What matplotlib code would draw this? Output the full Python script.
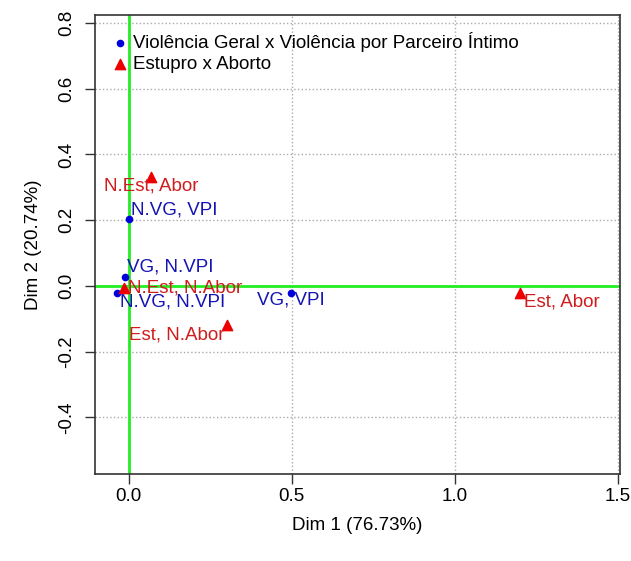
import matplotlib.pyplot as plt

plt.rcParams['font.family'] = ['Liberation Sans', 'DejaVu Sans']

# Violência Geral x Violência por Parceiro Íntimo
vg_labels = ['N.VG, VPI', 'VG, N.VPI', 'N.VG, N.VPI', 'VG, VPI']
vg_x = [0.0, -0.01, -0.035, 0.497]
vg_y = [0.205, 0.027, -0.022, -0.022]

# Estupro x Aborto
ea_labels = ['N.Est, Abor', 'N.Est, N.Abor', 'Est, N.Abor', 'Est, Abor']
ea_x = [0.07, -0.015, 0.30, 1.20]
ea_y = [0.33, -0.005, -0.12, -0.02]

# label offsets in points (dx, dy, ha)
vg_off = [(2, 6, 'left'), (1, 7, 'left'), (2, -6, 'left'), (-24, -5, 'left')]
ea_off = [(0, -6, 'center'), (3, 0, 'left'), (-70, -7, 'left'), (3, -7, 'left')]

blue = '#1414b4'
red = '#d01c1c'
fs = 13.5

fig = plt.figure(figsize=(6.31, 5.61), dpi=100)
ax = fig.add_axes([0.1506, 0.1551, 0.832, 0.818])

ax.set_xlim(-0.103, 1.506)
ax.set_ylim(-0.572, 0.824)
ax.set_xticks([0.0, 0.5, 1.0, 1.5])
ax.set_yticks([-0.4, -0.2, 0.0, 0.2, 0.4, 0.6, 0.8])
ax.set_xticklabels(['0.0', '0.5', '1.0', '1.5'])
ax.set_yticklabels(['-0.4', '-0.2', '0.0', '0.2', '0.4', '0.6', '0.8'],
                   rotation=90, va='center')
ax.grid(True, color='#aaaaaa', linestyle=':', linewidth=1)
ax.set_axisbelow(True)

ax.axhline(0, color='#22ee22', lw=2, zorder=1.5)
ax.axvline(0, color='#22ee22', lw=2, zorder=1.5)

ax.scatter(vg_x, vg_y, s=20, c='#0000dd', marker='o', zorder=3,
           label='Violência Geral x Violência por Parceiro Íntimo')
ax.scatter(ea_x, ea_y, s=55, c='#ee0000', marker='^', zorder=3,
           label='Estupro x Aborto')

for lab, x, y, (dx, dy, ha) in zip(vg_labels, vg_x, vg_y, vg_off):
    ax.annotate(lab, (x, y), xytext=(dx, dy), textcoords='offset points',
                ha=ha, va='center', color=blue, fontsize=fs)
for lab, x, y, (dx, dy, ha) in zip(ea_labels, ea_x, ea_y, ea_off):
    ax.annotate(lab, (x, y), xytext=(dx, dy), textcoords='offset points',
                ha=ha, va='center', color=red, fontsize=fs)

ax.legend(loc='upper left', frameon=False, fontsize=fs, handletextpad=0.25,
          borderaxespad=0.6, labelspacing=0.2, handlelength=0.9,
          borderpad=0.3)

for s in ax.spines.values():
    s.set_color('#333333')
    s.set_linewidth(1.2)
ax.tick_params(labelsize=fs, length=7, width=1, color='#333333')
ax.tick_params(axis='x', pad=3)
ax.tick_params(axis='y', pad=7)

ax.set_xlabel('Dim 1 (76.73%)', fontsize=fs, labelpad=9)
ax.set_ylabel('Dim 2 (20.74%)', fontsize=fs, labelpad=12)

fig.savefig('out.png', dpi=100)
